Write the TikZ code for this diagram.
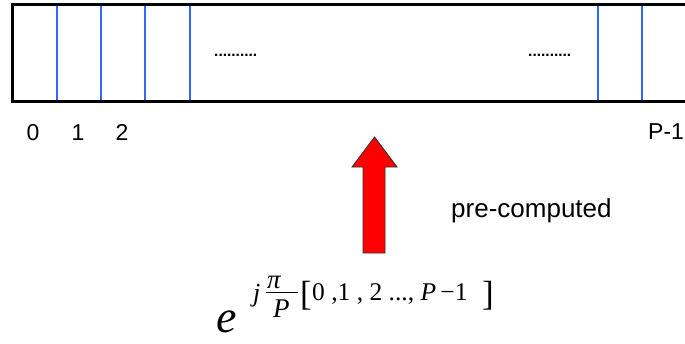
\documentclass[tikz,border=0pt]{standalone}
\usepackage{fontspec}
\setmainfont{Liberation Sans}
\newfontfamily\tms{Liberation Serif}
\definecolor{cellblue}{RGB}{51,102,255}
\definecolor{arrowred}{RGB}{255,0,0}
\begin{document}
\begin{tikzpicture}[x=1pt,y=-1pt,
  frameline/.style={line width=3pt,black},
  cellline/.style={line width=2pt,cellblue},
  idx/.style={font=\fontsize{23}{23}\selectfont,inner sep=0pt,anchor=base},
  dotsstyle/.style={font=\fontsize{15.5}{15.5}\selectfont\bfseries,inner sep=0pt,anchor=base west},
  mth/.style={inner sep=0pt,anchor=base west},
  blockarrow/.style={fill=arrowred,draw=black!80,line width=0.9pt,line join=miter}]
\useasboundingbox (0,0) rectangle (685,343);
% frame
\coordinate (tl) at (12,4.5);
\coordinate (tr) at (690,4.5);
\coordinate (bl) at (12,101.5);
\coordinate (br) at (690,101.5);
\draw[frameline] (tr) -- (tl) -- (bl) -- (br);
% cell separators
\foreach \xx in {57,101,145,190,598,642}{
  \draw[cellline] (\xx,6) -- (\xx,100);
}
% dots
\node[dotsstyle] (d1) at (214,56) {..........};
\node[dotsstyle] (d2) at (528,56) {..........};
% indices
\node[idx] (i0) at (33,140) {0};
\node[idx] (i1) at (78,140) {1};
\node[idx] (i2) at (122,140) {2};
\node[idx,anchor=base west] (ip) at (648,139) {P-1};
% arrow
\path[blockarrow] (363,253) -- (363,167) -- (352,167) -- (374.5,137) -- (397,167) -- (385,167) -- (385,253) -- cycle;
% label
\node[mth,font=\fontsize{26}{26}\selectfont] (pc) at (451,217) {pre-computed};
% formula
\node[mth,font=\fontsize{46}{46}\tms\itshape] (e) at (216,332) {e};
\node[mth,font=\fontsize{26}{26}\tms\itshape] (j) at (253,301) {j};
\node[mth,font=\fontsize{27}{27}\tms\itshape] (pi) at (267,288) {π};
\coordinate (barl) at (266,292);
\coordinate (barr) at (298,292);
\draw[line width=1pt] (barl) -- (barr);
\node[mth,font=\fontsize{27}{27}\tms\itshape] (P) at (273,317) {P};
\node[mth,font=\fontsize{35}{35}\tms] (lb) at (300,305) {[};
\node[mth,font=\fontsize{25.5}{25.5}\tms] (args) at (312,300) {0 ,1 , 2 ..., \textit{P}\,−1};
\node[mth,font=\fontsize{35}{35}\tms] (rb) at (482,305) {]};
\end{tikzpicture}
\end{document}
